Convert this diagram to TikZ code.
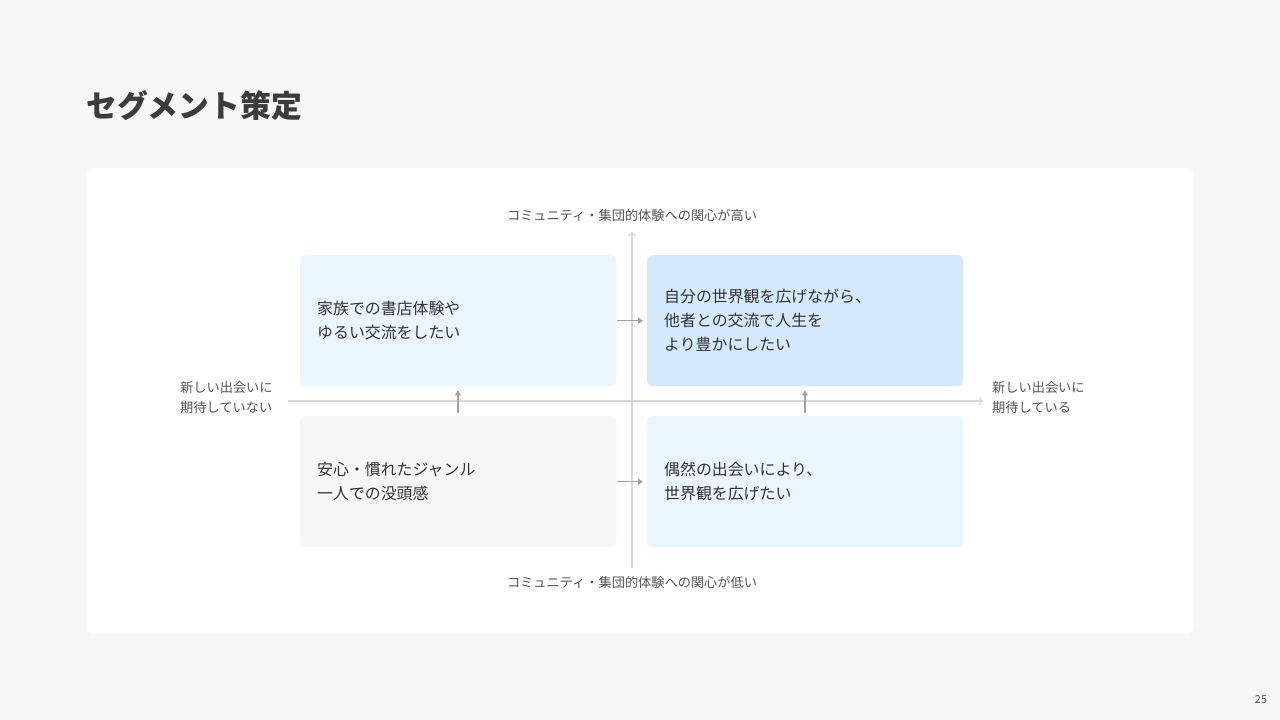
\documentclass[tikz,border=0pt]{standalone}
\usepackage{fontspec}
\setmainfont{Noto Sans CJK JP}
\newfontfamily\jp{Noto Sans CJK JP}
\usetikzlibrary{arrows.meta}
\definecolor{pagebg}{HTML}{F7F7F7}
\definecolor{titlec}{HTML}{3C3C3C}
\definecolor{textc}{HTML}{333333}
\definecolor{labelc}{HTML}{555555}
\definecolor{axisc}{HTML}{D8D8D8}
\definecolor{arrc}{HTML}{A0A0A0}
\definecolor{lightblue}{HTML}{EBF5FF}
\definecolor{midblue}{HTML}{D5E9FC}
\definecolor{lightgray}{HTML}{F6F6F6}
\tikzset{
  quad/.style={rounded corners=5pt, draw=none, minimum height=131pt, text width=282pt,
    inner xsep=17pt, inner ysep=0pt, align=left, anchor=north west, text=textc,
    font=\jp\fontsize{15.9}{24}\selectfont},
  axislabel/.style={text=labelc, font=\jp\fontsize{13.2}{20}\selectfont, inner sep=0pt},
  axisline/.style={draw=axisc, line width=1.2pt, -{To[length=4pt,width=8pt]}},
  flow/.style={draw=arrc, line width=1.1pt, -{Triangle[length=5pt,width=6pt]}},
}
\begin{document}
\begin{tikzpicture}[x=1pt,y=-1pt]
\useasboundingbox (0,0) rectangle (1280,720);
\fill[pagebg] (0,0) rectangle (1280,720);
\node[anchor=west, inner sep=0pt, text=titlec, font=\jp\bfseries\fontsize{30.8}{36}\selectfont] (title) at (86,106) {セグメント策定};
\fill[white, rounded corners=7pt] (86,168) rectangle (1194,634);
% axes
\coordinate (vtop) at (632,232);
\coordinate (vbot) at (632,568);
\coordinate (hleft) at (288,401);
\coordinate (hright) at (983,401);
\draw[axisline] (vbot) -- (vtop);
\draw[axisline] (hleft) -- (hright);
% boxes
\node[quad, fill=lightblue] (tl) at (300,255) {家族での書店体験や\\ゆるい交流をしたい};
\node[quad, fill=midblue] (tr) at (647,255) {自分の世界観を広げながら、\\他者との交流で人生を\\より豊かにしたい};
\node[quad, fill=lightgray] (bl) at (300,416) {安心・慣れたジャンル\\一人での没頭感};
\node[quad, fill=lightblue] (br) at (647,416) {偶然の出会いにより、\\世界観を広げたい};
% labels
\node[axislabel, anchor=center] (ltop) at (632,215) {コミュニティ・集団的体験への関心が高い};
\node[axislabel, anchor=center] (lbot) at (632,582) {コミュニティ・集団的体験への関心が低い};
\node[axislabel, anchor=west, align=left] (lleft) at (180,398) {新しい出会いに\\期待していない};
\node[axislabel, anchor=west, align=left] (lright) at (992,398) {新しい出会いに\\期待している};
% flows
\draw[flow] ([xshift=1pt]tl.east) -- ([xshift=-4pt]tr.west);
\draw[flow] ([xshift=1pt]bl.east) -- ([xshift=-4pt]br.west);
\draw[flow] ([yshift=3pt]bl.north -| 458,0) -- ([yshift=-4pt]tl.south -| 458,0);
\draw[flow] ([yshift=3pt]br.north -| 805,0) -- ([yshift=-4pt]tr.south -| 805,0);
\node[text=labelc, font=\jp\fontsize{11}{13}\selectfont, inner sep=0pt] (pnum) at (1261,700) {25};
\end{tikzpicture}
\end{document}
